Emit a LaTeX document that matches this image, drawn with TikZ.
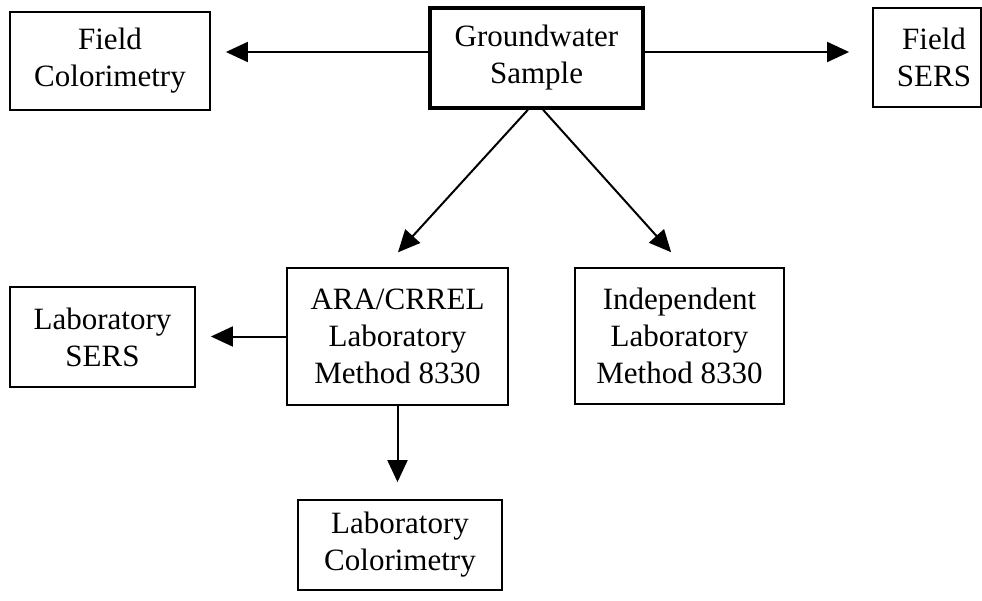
\documentclass[tikz,border=0pt]{standalone}
\usepackage{fontspec}
\setmainfont{Liberation Serif}
\usetikzlibrary{arrows.meta}
\begin{document}
\begin{tikzpicture}[x=1pt,y=-1pt,
  box/.style={draw=black, line width=1.8pt, align=center, inner sep=0pt,
    font=\fontsize{31}{37}\selectfont},
  thickbox/.style={box, line width=3.4pt},
  arr/.style={line width=2pt, -{Triangle[length=22pt,width=20pt]}}]
\useasboundingbox (0,0) rectangle (982,600);
\node[box, minimum width=200pt, minimum height=98pt] (fc) at (110,61) {Field\\Colorimetry};
\node[thickbox, minimum width=213pt, minimum height=100pt] (gw) at (536.5,58) {Groundwater\\Sample};
\node[box, minimum width=108pt, minimum height=99pt] (fs) at (927,57.5) {\hspace*{14pt}Field\\\hspace*{14pt}SERS};
\node[box, minimum width=221pt, minimum height=137pt] (ara) at (397.5,336.5) {ARA/CRREL\\Laboratory\\Method 8330};
\node[box, minimum width=209pt, minimum height=136pt] (ind) at (679.5,336) {Independent\\Laboratory\\Method 8330};
\node[box, minimum width=185pt, minimum height=100pt] (ls) at (102.5,337) {Laboratory\\SERS};
\node[box, minimum width=204pt, minimum height=90pt] (lc) at (400,545) {Laboratory\\Colorimetry};

\draw[arr, shorten >=15pt] ([yshift=6pt]gw.west) -- ([yshift=6pt]gw.west -| fc.east);
\draw[arr, shorten >=23pt] ([yshift=6pt]gw.east) -- ([yshift=6pt]gw.east -| fs.west);
\draw[arr, shorten >=20pt] ([xshift=-8.5pt]gw.south) -- ([xshift=-13pt]ara.north);
\draw[arr, shorten >=20pt] ([xshift=6.5pt]gw.south) -- ([xshift=5pt]ind.north);
\draw[arr, shorten >=15pt] (ara.west) -- (ara.west -| ls.east);
\draw[arr, shorten >=17pt] (ara.south) -- (ara.south |- lc.north);
\end{tikzpicture}
\end{document}
